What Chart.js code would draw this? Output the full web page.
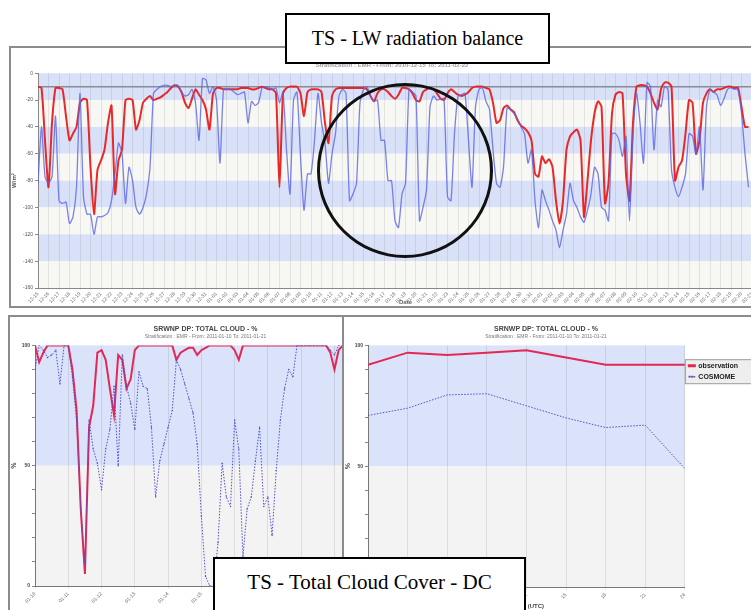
<!DOCTYPE html>
<html>
<head>
<meta charset="utf-8">
<script src="https://cdn.jsdelivr.net/npm/chart.js@4/dist/chart.umd.min.js"></script>
<style>
  body { margin: 0; width: 751px; height: 610px; overflow: hidden; background: #fff; position: relative; }
  .abs { position: absolute; }
  .frame { position: absolute; border: 2px solid #8c8c8c; background: #fff; }
  .note { position: absolute; border: 2px solid #000; background: #fff; font-family: "Liberation Serif", "Times New Roman", serif; color: #000; text-align: center; z-index: 5; }
  #circle { position: absolute; left: 317px; top: 83px; width: 170px; height: 169px; border: 3px solid #111; border-radius: 50%; z-index: 5; }
</style>
</head>
<body>

<div class="frame" style="left:9px; top:46px; width:780px; height:258px;"></div>
<div class="abs" style="left:11px; top:48px; width:780px; height:258px;"><canvas id="lw" width="780" height="258"></canvas></div>

<div class="frame" style="left:8px; top:315px; width:340px; height:300px;"></div>
<div class="abs" style="left:10px; top:317px; width:333px; height:293px; overflow:hidden;"><canvas id="tcc" width="410" height="293"></canvas></div>

<div class="frame" style="left:342px; top:315px; width:420px; height:300px; border-right:none; border-bottom:none;"></div>
<div class="abs" style="left:344px; top:317px; width:420px; height:293px;"><canvas id="dc" width="420" height="293"></canvas></div>

<div class="note" style="left:285px; top:13px; width:261px; height:47px; line-height:47px; font-size:20px;">TS - LW radiation balance</div>
<div class="note" style="left:213px; top:557px; width:309px; height:60px; line-height:46px; font-size:21px;">TS - Total Cloud Cover - DC</div>
<div id="circle"></div>

<script>
// ---- LW radiation balance (3 values per day, W/m2) ----
const lwStart = new Date(Date.UTC(2010, 11, 15));
const lwDays = 70;
const lwTicks = [0, -20, -40, -60, -80, -100, -120, -140, -160];
const lwRef = -10;

const lwObs = [
  -10, -11, -50, -85, -37, -11, -11, -12, -32, -50,
  -45, -40, -22, -19, -20, -70, -105, -72, -65, -57,
  -37, -24, -90, -65, -57, -20, -19, -20, -42, -35,
  -22, -19, -17, -20, -19, -18, -16, -14, -11, -9,
  -10, -14, -22, -26, -19, -12, -16, -20, -27, -42,
  -15, -11, -11, -12, -12, -12, -12, -12, -11, -11,
  -11, -12, -12, -11, -10, -11, -12, -12, -15, -85,
  -15, -11, -10, -10, -10, -15, -32, -14, -12, -12,
  -12, -14, -37, -52, -17, -12, -11, -11, -11, -11,
  -11, -11, -11, -11, -12, -17, -21, -15, -12, -12,
  -14, -17, -19, -16, -11, -11, -12, -15, -20, -21,
  -14, -12, -11, -12, -15, -19, -20, -15, -12, -14,
  -16, -17, -16, -14, -11, -10, -10, -10, -11, -12,
  -22, -37, -35, -26, -24, -27, -29, -35, -39, -41,
  -44, -50, -75, -77, -62, -67, -64, -70, -95, -112,
  -95, -57, -47, -44, -42, -50, -107, -80, -50, -30,
  -21, -25, -97, -82, -30, -16, -14, -15, -75, -95,
  -37, -10, -9, -9, -10, -15, -22, -27, -12, -7,
  -7, -10, -80, -70, -65, -45, -20, -22, -60, -50,
  -22, -15, -12, -14, -12, -12, -11, -10, -10, -11,
  -11, -25, -40, -40
];

const lwModel = [
  -82, -40, -77, -82, -77, -32, -95, -97, -96, -112,
  -107, -85, -15, -92, -105, -105, -120, -107, -107, -106,
  -104, -95, -75, -52, -60, -97, -70, -80, -100, -105,
  -100, -90, -70, -15, -12, -10, -9, -9, -10, -9,
  -9, -14, -17, -16, -12, -22, -50, -4, -5, -15,
  -10, -20, -67, -12, -12, -12, -14, -16, -15, -14,
  -37, -21, -24, -22, -11, -10, -11, -12, -11, -22,
  -14, -57, -90, -20, -14, -62, -102, -75, -75, -50,
  -15, -37, -52, -82, -60, -45, -17, -12, -15, -95,
  -90, -82, -22, -12, -10, -17, -21, -20, -50, -50,
  -80, -80, -110, -115, -90, -82, -12, -14, -17, -110,
  -100, -87, -25, -17, -20, -19, -19, -92, -95, -45,
  -17, -16, -15, -50, -85, -25, -12, -11, -21, -27,
  -57, -82, -85, -70, -26, -27, -30, -34, -40, -45,
  -67, -57, -95, -115, -87, -95, -102, -110, -117, -130,
  -117, -105, -82, -95, -100, -107, -111, -102, -90, -70,
  -75, -100, -102, -110, -45, -45, -50, -62, -47, -110,
  -47, -15, -37, -67, -7, -10, -57, -20, -25, -10,
  -12, -72, -85, -92, -85, -75, -45, -47, -60, -40,
  -87, -25, -12, -14, -16, -24, -19, -12, -11, -12,
  -12, -30, -60, -85
];

// ---- Total cloud cover time series (3-hourly, %) ----
const tccDays = ['01-10', '01-11', '01-12', '01-13', '01-14', '01-15', '01-16', '01-17', '01-18', '01-19', '01-20', '01-21'];
const tccObs = [
  100, 93, 97, 100, 100, 100, 100, 100, 100, 90,
  73, 32, 5, 66, 75, 97, 98, 94, 82, 71,
  96, 94, 82, 86, 98, 100, 100, 100, 100, 100,
  100, 100, 100, 100, 94, 97, 98, 99, 99, 96,
  98, 99, 100, 100, 100, 100, 100, 100, 98, 94,
  100, 100, 100, 100, 100, 100, 100, 100, 100, 100,
  100, 100, 100, 100, 100, 100, 100, 100, 100, 100,
  100, 97, 90, 98, 100, 100
];
const tccModel = [
  90, 100, 98, 95, 96, 98, 84, 100, 100, 87,
  69, 32, 9, 69, 57, 51, 40, 57, 65, 83,
  50, 96, 83, 76, 65, 89, 83, 82, 66, 37,
  52, 59, 66, 73, 94, 90, 84, 78, 72, 59,
  29, 4, 0, 0, 18, 51, 37, 33, 69, 57,
  12, 32, 37, 52, 66, 33, 37, 21, 48, 69,
  82, 90, 87, 100, 100, 100, 100, 100, 100, 100,
  100, 98, 96, 100, 100, 100
];

// ---- Total cloud cover daily cycle (%) ----
const dcHours = [0, 3, 6, 9, 12, 15, 18, 21, 24];
const dcObs = [92, 97, 96, 97, 98, 95, 92, 92, 92];
const dcModel = [71, 74, 79.5, 80, 75, 70, 66, 67, 49];

const lwLabels = [];
for (let d = 0; d <= lwDays; d++) {
  const t = new Date(lwStart.getTime() + d * 86400000);
  lwLabels.push(String(t.getUTCMonth() + 1).padStart(2, '0') + '-' + String(t.getUTCDate()).padStart(2, '0'));
}

Chart.defaults.font.family = '"Liberation Sans", Arial, sans-serif';
Chart.defaults.animation = false;

const RED = 'rgba(232, 30, 30, 0.95)';
const BLUE = 'rgba(90, 100, 230, 0.8)';
const RED2 = 'rgb(226, 40, 85)';
const BLUE2 = 'rgb(80, 80, 205)';

// background stripes drawn from the y scale
const bands = {
  id: 'bands',
  beforeDraw(chart, args, opts) {
    const { ctx, chartArea: a, scales: { y } } = chart;
    ctx.save();
    opts.list.forEach(([from, to, color]) => {
      const y1 = y.getPixelForValue(from), y2 = y.getPixelForValue(to);
      ctx.fillStyle = color;
      ctx.fillRect(a.left, Math.min(y1, y2), a.right - a.left, Math.abs(y2 - y1));
    });
    ctx.restore();
  }
};

// grey box behind the legend items, running off the right edge like the original
const legendBox = {
  id: 'legendBox',
  beforeDraw(chart) {
    const hb = chart.legend && chart.legend.legendHitBoxes;
    if (!hb || !hb.length) return;
    const ctx = chart.ctx;
    const l = Math.min(...hb.map(b => b.left)) - 4;
    const t = Math.min(...hb.map(b => b.top)) - 3;
    const r = chart.width + 2;
    const bt = Math.max(...hb.map(b => b.top + b.height)) + 3;
    ctx.save();
    ctx.fillStyle = '#eeeeee';
    ctx.fillRect(l, t, r - l, bt - t);
    ctx.strokeStyle = '#9a9a9a';
    ctx.lineWidth = 1;
    ctx.strokeRect(l + 0.5, t + 0.5, r - l, bt - t);
    ctx.restore();
  }
};

// LW bands: alternate blue / light every tick interval
const lwBands = [];
for (let k = 0; k < lwTicks.length - 1; k++) {
  lwBands.push([lwTicks[k], lwTicks[k + 1], k % 2 === 0 ? '#d9e1f8' : '#f7f7f3']);
}

new Chart(document.getElementById('lw'), {
  type: 'line',
  data: {
    datasets: [
      {
        label: 'model',
        data: lwModel.map((v, i) => ({ x: i / 3, y: v })),
        borderColor: BLUE, borderWidth: 1.3, pointRadius: 0, tension: 0.2
      },
      {
        label: 'observation',
        data: lwObs.map((v, i) => ({ x: i / 3, y: v })),
        borderColor: RED, borderWidth: 2, pointRadius: 0, tension: 0.2
      },
      {
        label: 'ref',
        data: [{ x: 0, y: lwRef }, { x: lwDays, y: lwRef }],
        borderColor: '#8a8a9a', borderWidth: 1.5, pointRadius: 0
      }
    ]
  },
  options: {
    responsive: false,
    layout: { padding: { right: 18 } },
    plugins: {
      legend: { display: false },
      tooltip: { enabled: false },
      title: {
        display: true,
        text: 'Stratification : EMR - From: 2010-12-15 To: 2011-02-22',
        color: '#a0a0a0', font: { size: 6 }, padding: { top: 14, bottom: 4 }
      },
      bands: { list: lwBands }
    },
    scales: {
      x: {
        type: 'linear', min: 0, max: lwDays,
        afterFit(s) { s.height = 18; },
        ticks: {
          stepSize: 1, autoSkip: false, minRotation: 45, maxRotation: 45,
          font: { size: 5 }, color: '#666', padding: 1,
          callback: v => lwLabels[v] || ''
        },
        grid: { color: 'rgba(0,0,0,0.08)', tickLength: 2 },
        border: { color: '#888' },
        title: { display: true, text: 'Date', color: '#666', font: { size: 6, weight: 'bold' }, padding: 0 }
      },
      y: {
        min: -160, max: 0,
        afterFit(s) { s.width = 27; },
        ticks: { stepSize: 20, font: { size: 5 }, color: '#555', padding: 2 },
        grid: { drawOnChartArea: false, tickLength: 3, color: '#888' },
        border: { color: '#888' },
        title: { display: true, text: 'W/m²', color: '#555', font: { size: 6, weight: 'bold' }, padding: 0 }
      }
    }
  },
  plugins: [bands]
});

const cloudBands = [[50, 100, '#dbe3fa'], [0, 50, '#f3f3f3']];

new Chart(document.getElementById('tcc'), {
  type: 'line',
  data: {
    datasets: [
      {
        label: 'COSMOME',
        data: tccModel.map((v, i) => ({ x: i / 8, y: v })),
        borderColor: BLUE2, borderWidth: 1, borderDash: [1.5, 1.5],
        pointRadius: 0.7, pointBackgroundColor: BLUE2, pointBorderWidth: 0, tension: 0
      },
      {
        label: 'observation',
        data: tccObs.map((v, i) => ({ x: i / 8, y: v })),
        borderColor: RED2, borderWidth: 2, pointRadius: 0, tension: 0
      }
    ]
  },
  options: {
    responsive: false,
    layout: { padding: { right: 19 } },
    plugins: {
      legend: { display: false },
      tooltip: { enabled: false },
      title: {
        display: true, text: 'SRWNP DP: TOTAL CLOUD - %',
        color: '#444', font: { size: 7, weight: 'bold' }, padding: { top: 8, bottom: 0 }
      },
      subtitle: {
        display: true, text: 'Stratification : EMR - From: 2011-01-10 To: 2011-01-21',
        color: '#777', font: { size: 5 }, padding: { top: 0, bottom: 6 }
      },
      bands: { list: cloudBands }
    },
    scales: {
      x: {
        type: 'linear', min: 0, max: tccDays.length - 1,
        afterFit(s) { s.height = 24; },
        ticks: {
          stepSize: 1, autoSkip: false, minRotation: 45, maxRotation: 45,
          font: { size: 5 }, color: '#666', padding: 2,
          callback: v => tccDays[v] || ''
        },
        grid: { color: 'rgba(0,0,0,0.09)', tickLength: 3 },
        border: { color: '#777' }
      },
      y: {
        min: 0, max: 100,
        afterFit(s) { s.width = 25; },
        ticks: {
          stepSize: 10, autoSkip: false, font: { size: 5, weight: 'bold' }, color: '#444', padding: 2,
          callback: v => (v % 50 === 0 ? v : '')
        },
        grid: { drawOnChartArea: false, tickLength: 3, color: '#888' },
        border: { color: '#777' },
        title: { display: true, text: '%', color: '#444', font: { size: 7, weight: 'bold' }, padding: 0 }
      }
    }
  },
  plugins: [bands]
});

new Chart(document.getElementById('dc'), {
  type: 'line',
  data: {
    datasets: [
      {
        label: 'observation',
        data: dcObs.map((v, i) => ({ x: dcHours[i], y: v })),
        borderColor: RED2, backgroundColor: RED2, borderWidth: 2, pointRadius: 0, tension: 0
      },
      {
        label: 'COSMOME',
        data: dcModel.map((v, i) => ({ x: dcHours[i], y: v })),
        borderColor: BLUE2, backgroundColor: BLUE2, borderWidth: 1, borderDash: [1.5, 1.5],
        pointRadius: 0, tension: 0
      }
    ]
  },
  options: {
    responsive: false,
    layout: { padding: { right: 16 } },
    plugins: {
      legend: {
        display: true, position: 'right', align: 'start',
        title: { display: true, text: ' ', font: { size: 6 }, padding: { top: 34, bottom: 0 } },
        labels: {
          font: { size: 7, weight: 'bold' }, color: '#222', boxWidth: 6, boxHeight: 1,
          padding: 4
        }
      },
      tooltip: { enabled: false },
      title: {
        display: true, text: 'SRNWP DP: TOTAL CLOUD - %',
        color: '#444', font: { size: 7, weight: 'bold' }, padding: { top: 8, bottom: 0 }
      },
      subtitle: {
        display: true, text: 'Stratification : EMR - From: 2011-01-10 To: 2011-01-21',
        color: '#777', font: { size: 5 }, padding: { top: 0, bottom: 6 }
      },
      bands: { list: cloudBands }
    },
    scales: {
      x: {
        type: 'linear', min: 0, max: 24,
        afterFit(s) { s.height = 23; },
        ticks: {
          stepSize: 3, autoSkip: false, minRotation: 45, maxRotation: 45,
          font: { size: 5 }, color: '#666', padding: 2
        },
        grid: { color: 'rgba(0,0,0,0.09)', tickLength: 3 },
        border: { color: '#777' },
        title: { display: true, text: 'Hours (UTC)', color: '#444', font: { size: 6, weight: 'bold' }, padding: 0 }
      },
      y: {
        min: 0, max: 100,
        afterFit(s) { s.width = 24; },
        ticks: {
          stepSize: 10, autoSkip: false, font: { size: 5, weight: 'bold' }, color: '#444', padding: 2,
          callback: v => (v % 50 === 0 ? v : '')
        },
        grid: { drawOnChartArea: false, tickLength: 3, color: '#888' },
        border: { color: '#777' },
        title: { display: true, text: '%', color: '#444', font: { size: 7, weight: 'bold' }, padding: 0 }
      }
    }
  },
  plugins: [bands, legendBox]
});
</script>
</body>
</html>
